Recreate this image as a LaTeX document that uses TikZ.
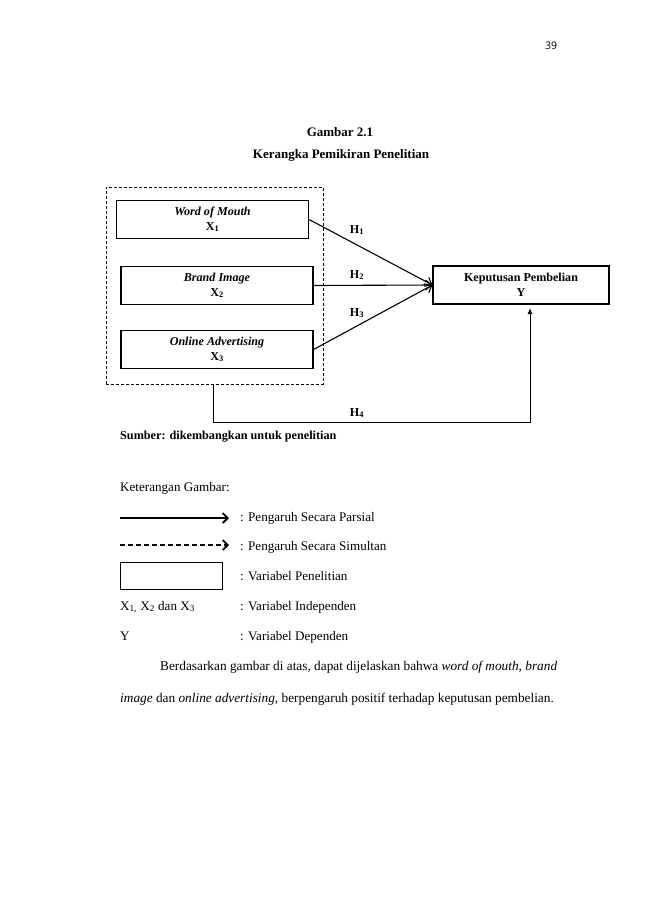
\documentclass[tikz,border=0pt]{standalone}
\usepackage{fontspec}
\setmainfont{Liberation Serif}
\newfontfamily\pnfont{Open Sans}
\usetikzlibrary{arrows.meta}
\newcommand{\diagfont}{\fontsize{12.1}{14.5}\selectfont}
\newcommand{\bodyfont}{\fontsize{13.3}{16}\selectfont}
\newcommand{\legfont}{\fontsize{13.1}{15}\selectfont}
\begin{document}
\begin{tikzpicture}[x=1pt,y=-1pt,
  var/.style={draw, line width=1.1pt, minimum width=192pt, minimum height=38pt, inner sep=0pt, align=center, font=\diagfont},
  outerbox/.style={draw, densely dashed, line width=0.7pt, minimum width=217pt, minimum height=197pt, inner sep=0pt},
  arr/.style={line width=1.1pt, -{Straight Barb[length=6pt,width=10pt,line width=1.1pt]}},
  legarr/.style={line width=1.1pt, -{Straight Barb[length=5pt,width=10pt,line width=1.8pt]}},
  arrf/.style={line width=1pt, -{Latex[length=6pt,width=5pt]}},
  hlab/.style={font=\diagfont\bfseries, inner sep=0pt},
  txt/.style={anchor=base west, inner sep=0pt},
]
\fill[white] (0,0) rectangle (650,919);
\useasboundingbox (0,0) rectangle (650,919);

% page number
\node[inner sep=0pt, font=\pnfont\fontsize{10.5}{12}\selectfont] (pn) at (551,46) {39};

% titles
\node[inner sep=0pt, font=\fontsize{13}{15}\selectfont\bfseries] (t1) at (340,132) {Gambar 2.1};
\node[inner sep=0pt, font=\fontsize{13}{15}\selectfont\bfseries] (t2) at (341,155) {Kerangka Pemikiran Penelitian};

% diagram
\node[outerbox] (outer) at (214.5,285.5) {};
\node[var] (x1) at (212.5,219.5) {\textbf{\textit{Word of Mouth}}\\\textbf{X\textsubscript{1}}};
\node[var] (x2) at (217,285.5) {\textbf{\textit{Brand Image}}\\\textbf{X\textsubscript{2}}};
\node[var] (x3) at (217,349.5) {\textbf{\textit{Online Advertising}}\\\textbf{X\textsubscript{3}}};
\node[var, minimum width=176pt] (y) at (521,285) {\textbf{Keputusan Pembelian}\\\textbf{Y}};

\draw[arr] (x1.east) -- (y.west);
\draw[arr] (x2.east) -- (y.west);
\draw[arr] (x3.east) -- (y.west);

\node[hlab] (h1) at (357,230) {H\textsubscript{1}};
\node[hlab] (h2) at (357,275) {H\textsubscript{2}};
\node[hlab] (h3) at (357,313) {H\textsubscript{3}};
\node[hlab] (h4) at (357,413) {H\textsubscript{4}};

\coordinate (c4) at (213,422);
\coordinate (yb) at (530,304);
\draw[arrf, shorten >=4pt] (outer.south -| c4) |- (c4) -| (yb);

\node[txt, font=\fontsize{12.2}{14}\selectfont\bfseries] (src) at (120,439) {Sumber: dikembangkan untuk penelitian};

% legend
\node[txt, font=\legfont] (ket) at (120,491) {Keterangan Gambar:};
\coordinate (l1a) at (120,518);
\coordinate (l1b) at (229,518);
\draw[legarr] (l1a) -- (l1b);
\node[txt, font=\legfont] (lt1) at (240,521) {: Pengaruh Secara Parsial};
\coordinate (l2a) at (120,545);
\coordinate (l2b) at (229,545);
\draw[legarr, dash pattern=on 5pt off 3pt] (l2a) -- (l2b);
\node[txt, font=\legfont] (lt2) at (240,550) {: Pengaruh Secara Simultan};
\node[draw, line width=1pt, minimum width=102pt, minimum height=27pt, inner sep=0pt] (lr) at (171,575.5) {};
\node[txt, font=\legfont] (lt3) at (240,580) {: Variabel Penelitian};
\node[txt, font=\legfont] (lx) at (120,610) {X\textsubscript{1,} X\textsubscript{2} dan X\textsubscript{3}};
\node[txt, font=\legfont] (lt4) at (240,610) {: Variabel Independen};
\node[txt, font=\legfont] (ly) at (120,640) {Y};
\node[txt, font=\legfont] (lt5) at (240,640) {: Variabel Dependen};

% paragraph
\node[txt, font=\bodyfont] (p1) at (160,670) {\makebox[397pt][s]{Berdasarkan gambar di atas, dapat dijelaskan bahwa \textit{word of mouth, brand}}};
\node[txt, font=\bodyfont] (p2) at (120,702) {\textit{image} dan \textit{online advertising}, berpengaruh positif terhadap keputusan pembelian.};
\end{tikzpicture}
\end{document}
